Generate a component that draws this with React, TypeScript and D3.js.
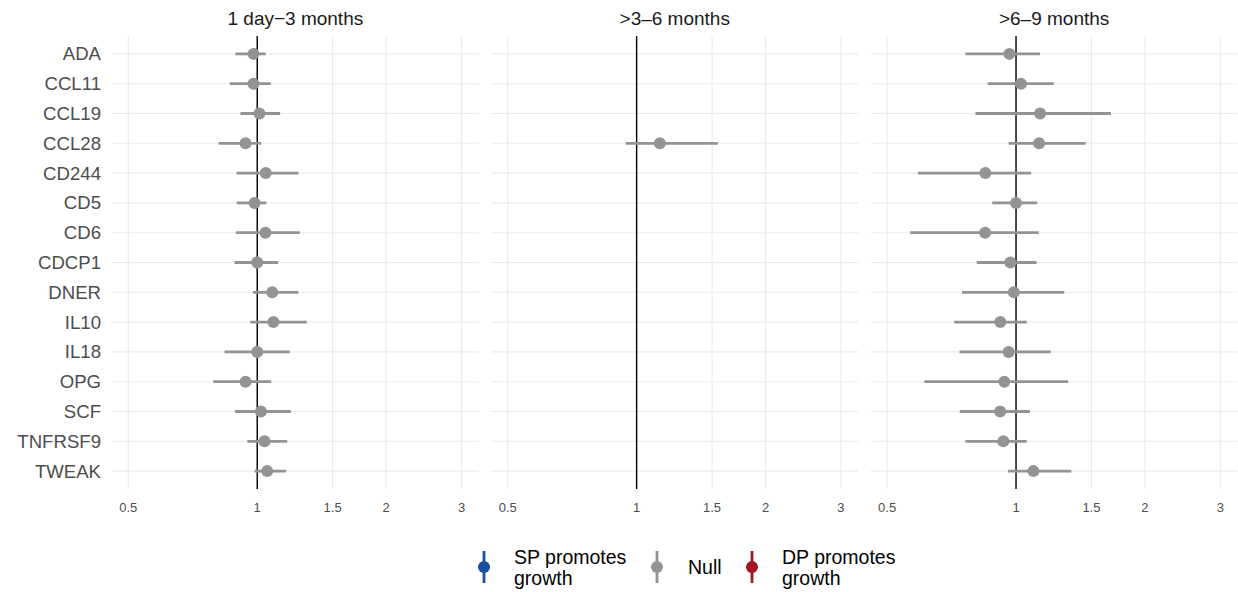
import React from "react";
import * as d3 from "d3";

const proteins = ["ADA","CCL11","CCL19","CCL28","CD244","CD5","CD6","CDCP1","DNER","IL10","IL18","OPG","SCF","TNFRSF9","TWEAK"];
const panels = ["1 day\u22123 months", ">3\u20136 months", ">6\u20139 months"];
const xTicks = [0.5, 1, 1.5, 2, 3];
const xTickLabels = ["0.5", "1", "1.5", "2", "3"];

// panel 1: 1 day-3 months
const est1 = [0.980,0.980,1.012,0.939,1.047,0.986,1.045,1.000,1.084,1.091,1.000,0.939,1.020,1.040,1.055];
const lo1  = [0.889,0.863,0.914,0.813,0.895,0.896,0.891,0.885,0.977,0.963,0.839,0.789,0.887,0.948,0.986];
const hi1  = [1.047,1.076,1.131,1.022,1.248,1.050,1.257,1.119,1.248,1.305,1.191,1.078,1.198,1.175,1.168];
// panel 2: >3-6 months (only CCL28)
const est2 = [null,null,null,1.133,null,null,null,null,null,null,null,null,null,null,null];
const lo2  = [null,null,null,0.943,null,null,null,null,null,null,null,null,null,null,null];
const hi2  = [null,null,null,1.548,null,null,null,null,null,null,null,null,null,null,null];
// panel 3: >6-9 months
const est3 = [0.965,1.027,1.138,1.132,0.848,1.000,0.847,0.970,0.988,0.919,0.961,0.939,0.918,0.934,1.098];
const lo3  = [0.762,0.859,0.804,0.961,0.590,0.880,0.566,0.810,0.748,0.717,0.738,0.611,0.739,0.762,0.958];
const hi3  = [1.138,1.224,1.666,1.454,1.084,1.121,1.130,1.117,1.296,1.059,1.205,1.324,1.078,1.059,1.346];

const legendLabels = [["SP promotes", "growth"], ["Null"], ["DP promotes", "growth"]];
const legendColors = ["#1a4e9e", "#939393", "#a1161f"];

const estAll = [est1, est2, est3];
const loAll = [lo1, lo2, lo3];
const hiAll = [hi1, hi2, hi3];

const W = 1238, H = 592;
const FONT = "'Liberation Sans', Arial, Helvetica, sans-serif";
const panelX0 = 112, panelW = 366.7, panelGap = 12.7;
const plotTop = 36, plotBottom = 489;
const xDomain: [number, number] = [0.458, 3.29];

export default function App() {
  const y = d3.scalePoint<string>().domain(proteins).range([plotTop, plotBottom]).padding(0.6);
  const nullColor = legendColors[1];

  return (
    <svg width={W} height={H} style={{ position: "absolute", left: 0, top: 0, background: "#fff" }} fontFamily={FONT}>
      {panels.map((title, pi) => {
        const x0 = panelX0 + pi * (panelW + panelGap);
        const x = d3.scaleLog().base(2).domain(xDomain).range([x0, x0 + panelW]);
        const est = estAll[pi], lo = loAll[pi], hi = hiAll[pi];
        return (
          <g key={pi}>
            {proteins.map((p) => (
              <line key={"h" + p} x1={x0} x2={x0 + panelW} y1={y(p)} y2={y(p)} stroke="#ebebeb" strokeWidth={1.1} />
            ))}
            {xTicks.map((t) => (
              <line key={"v" + t} x1={x(t)} x2={x(t)} y1={plotTop} y2={plotBottom} stroke="#ebebeb" strokeWidth={1.1} />
            ))}
            <line x1={x(1)} x2={x(1)} y1={plotTop} y2={plotBottom} stroke="#000" strokeWidth={1.4} />
            {proteins.map((p, i) => {
              const e = est[i], l = lo[i], h = hi[i];
              if (e == null || l == null || h == null) return null;
              return (
                <g key={"m" + p}>
                  <line x1={x(l)} x2={x(h)} y1={y(p)} y2={y(p)} stroke={nullColor} strokeWidth={2.8} />
                  <circle cx={x(e)} cy={y(p)} r={6} fill={nullColor} />
                </g>
              );
            })}
            <text x={x0 + panelW / 2} y={18} textAnchor="middle" dominantBaseline="central" fontSize={19} fill="#1a1a1a">{title}</text>
            {xTicks.map((t, ti) => (
              <text key={"t" + t} x={x(t)} y={507} textAnchor="middle" dominantBaseline="central" fontSize={13} fill="#4d4d4d">{xTickLabels[ti]}</text>
            ))}
          </g>
        );
      })}
      {proteins.map((p) => (
        <text key={"yl" + p} x={101} y={y(p)} textAnchor="end" dominantBaseline="central" fontSize={18.6} fill="#4d4d4d">{p}</text>
      ))}
      {legendLabels.map((lab, li) => {
        const keyX = [484, 657, 752][li];
        const cy = 567;
        return (
          <g key={"lg" + li}>
            <line x1={keyX} x2={keyX} y1={cy - 16} y2={cy + 16} stroke={legendColors[li]} strokeWidth={2.8} />
            <circle cx={keyX} cy={cy} r={6} fill={legendColors[li]} />
            {lab.length === 1 ? (
              <text x={keyX + 31} y={cy} dominantBaseline="central" fontSize={19.5} fill="#000">{lab[0]}</text>
            ) : (
              lab.map((s, si) => (
                <text key={si} x={keyX + 30} y={cy - 10 + si * 21} dominantBaseline="central" fontSize={19.5} fill="#000">{s}</text>
              ))
            )}
          </g>
        );
      })}
    </svg>
  );
}
